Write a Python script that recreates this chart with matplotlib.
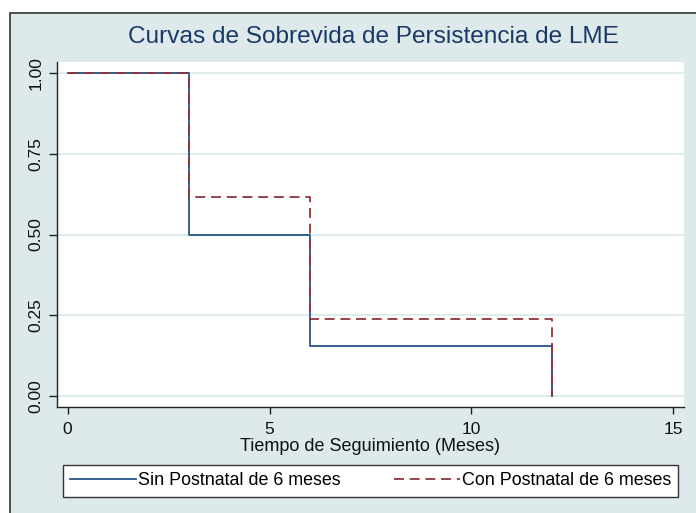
import matplotlib
matplotlib.use("Agg")
import matplotlib.pyplot as plt
from matplotlib.patches import Rectangle

plt.rcParams['font.family'] = ['Liberation Sans', 'DejaVu Sans']

# Data
times = [0, 3, 6, 12]
surv_sin = [1.0, 0.5, 0.155, 0.0]
surv_con = [1.0, 0.615, 0.24, 0.0]
labels = ["Sin Postnatal de 6 meses", "Con Postnatal de 6 meses"]
x_ticks = [0, 5, 10, 15]
y_ticks = [0.0, 0.25, 0.5, 0.75, 1.0]
y_ticklabels = ["0.00", "0.25", "0.50", "0.75", "1.00"]
title = "Curvas de Sobrevida de Persistencia de LME"
xlabel = "Tiempo de Seguimiento (Meses)"

W, H = 696, 513
bg = '#dde9ea'
fig = plt.figure(figsize=(W / 100, H / 100), dpi=100, facecolor='white')

# outer graph region with border
fig.patches.append(Rectangle((10 / W, -0.05), 1.1, 1 - 13.3 / H + 0.05,
                             transform=fig.transFigure, facecolor=bg,
                             edgecolor='#333333', linewidth=1.2, zorder=-10))

ax = fig.add_axes([56.7 / W, 1 - 406.7 / H, (683.7 - 56.7) / W, (406.7 - 62) / H])
ax.set_facecolor('white')

ax.step(times, surv_sin, where='post', color='#24548a', lw=1.3, label=labels[0], zorder=3)
ax.step(times, surv_con, where='post', color='#90353b', lw=1.3, dashes=(5.5, 3.2),
        label=labels[1], zorder=4)

ax.set_xlim(-0.272, 15.26)
ax.set_ylim(-0.033, 1.034)
ax.set_xticks(x_ticks)
ax.set_xticklabels([str(t) for t in x_ticks])
ax.set_yticks(y_ticks)
ax.set_yticklabels(y_ticklabels, rotation=90, va='center')

for y in y_ticks:
    ax.axhline(y, color='#e0ebeb', lw=1.5, zorder=1)

for s in ['top', 'right']:
    ax.spines[s].set_visible(False)
for s in ['left', 'bottom']:
    ax.spines[s].set_color('#222222')
    ax.spines[s].set_linewidth(1.0)

ax.tick_params(axis='both', direction='out', colors='#222222', labelcolor='#111111',
               labelsize=12.5, width=1.0)
ax.tick_params(axis='x', length=5, pad=6)
ax.tick_params(axis='y', length=5.5, pad=4)

ax.set_xlabel(xlabel, fontsize=13, color='#111111', labelpad=1)

fig.text(373.7 / W, 1 - 43 / H, title, ha='center', va='baseline',
         fontsize=17.6, color='#1a3a66')

leg = ax.legend(loc='center', bbox_to_anchor=(62.7 / W, 1 - 497.7 / H, 615.6 / W, 33.7 / H),
                bbox_transform=fig.transFigure, mode='expand', ncol=2,
                fontsize=12.9, handlelength=3.7, handletextpad=0.1,
                borderpad=0.4, borderaxespad=0, fancybox=False, framealpha=1,
                edgecolor='#333333', facecolor='white')
leg.get_frame().set_linewidth(1.0)

fig.savefig('out.png', dpi=100, facecolor=fig.get_facecolor())
